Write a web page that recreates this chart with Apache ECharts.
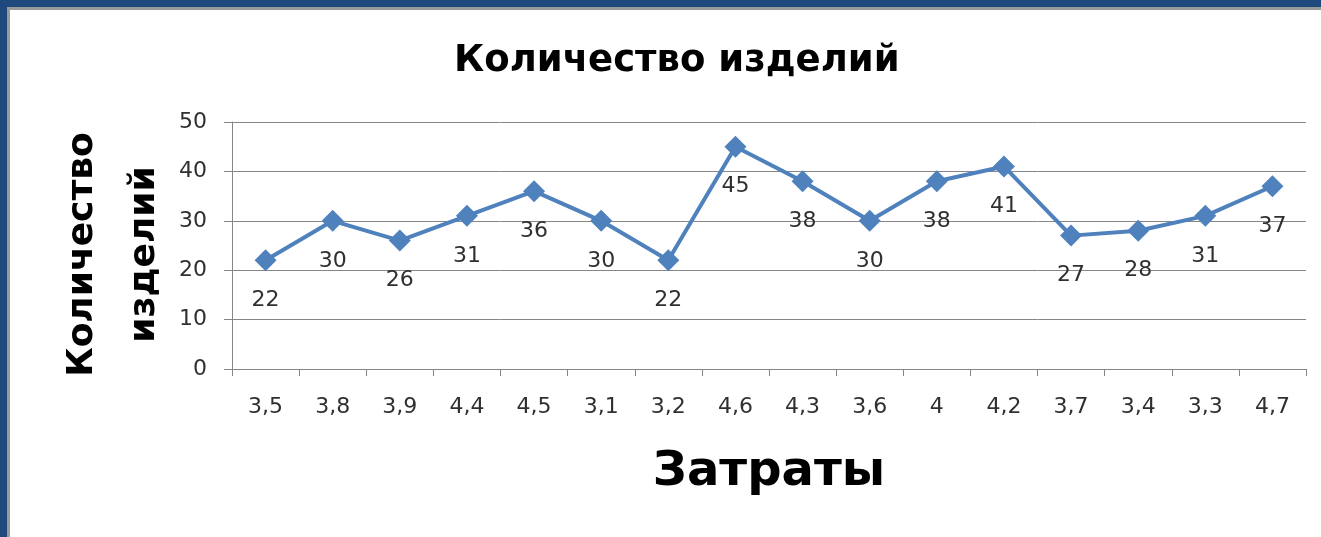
<!DOCTYPE html>
<html>
<head>
<meta charset="utf-8">
<script src="https://cdn.jsdelivr.net/npm/echarts@6/dist/echarts.min.js"></script>
<style>
  html, body { margin: 0; padding: 0; background: #ffffff; overflow: hidden; }
  #chart { position: absolute; left: 0; top: 0; width: 1321px; height: 537px; }
</style>
</head>
<body>
<div id="chart"></div>
<script>
const titleText = 'Количество изделий';
const xAxisTitle = 'Затраты';
const yAxisTitle = 'Количество\nизделий';
const categories = ['3,5', '3,8', '3,9', '4,4', '4,5', '3,1', '3,2', '4,6', '4,3', '3,6', '4', '4,2', '3,7', '3,4', '3,3', '4,7'];
const values = [22, 30, 26, 31, 36, 30, 22, 45, 38, 30, 38, 41, 27, 28, 31, 37];
const yTicks = { min: 0, max: 50, interval: 10 };

const chart = echarts.init(document.getElementById('chart'), null, { renderer: 'canvas' });
const font = 'DejaVu Sans';
chart.setOption({
  backgroundColor: '#ffffff',
  animation: false,
  graphic: [
    { type: 'rect', shape: { x: 0, y: 0, width: 1321, height: 10 }, style: { fill: '#9a9a9a' }, silent: true },
    { type: 'rect', shape: { x: 0, y: 0, width: 10, height: 537 }, style: { fill: '#9a9a9a' }, silent: true },
    { type: 'rect', shape: { x: 0, y: 0, width: 1321, height: 7 }, style: { fill: '#1F497D' }, silent: true },
    { type: 'rect', shape: { x: 0, y: 0, width: 7, height: 537 }, style: { fill: '#1F497D' }, silent: true }
  ],
  title: {
    text: titleText,
    left: 449,
    top: 38,
    textStyle: { fontFamily: font, fontWeight: 'bold', fontSize: 37, color: '#000000' }
  },
  grid: { left: 232, right: 15, top: 122, bottom: 168, containLabel: false },
  xAxis: {
    type: 'category',
    data: categories,
    boundaryGap: true,
    name: xAxisTitle,
    nameLocation: 'middle',
    nameGap: 80,
    nameMoveOverlap: false,
    nameTextStyle: { fontFamily: font, fontWeight: 'bold', fontSize: 48, color: '#000000' },
    axisLine: { show: true, lineStyle: { color: '#868686', width: 1 } },
    axisTick: { show: true, length: 7, alignWithLabel: false, lineStyle: { color: '#868686' } },
    axisLabel: { fontFamily: font, fontSize: 22, color: '#303030', margin: 27 },
    splitLine: { show: false }
  },
  yAxis: {
    type: 'value',
    min: yTicks.min,
    max: yTicks.max,
    interval: yTicks.interval,
    name: yAxisTitle,
    nameLocation: 'middle',
    nameGap: 56,
    nameMoveOverlap: false,
    nameRotate: 90,
    nameTextStyle: { fontFamily: font, fontWeight: 'bold', fontSize: 36, color: '#000000', lineHeight: 62, align: 'center', padding: [0, 18, 0, 0] },
    axisLine: { show: true, lineStyle: { color: '#868686', width: 1 } },
    axisTick: { show: true, length: 8, lineStyle: { color: '#868686' } },
    axisLabel: { fontFamily: font, fontSize: 22, color: '#303030', margin: 25 },
    splitLine: { show: true, lineStyle: { color: '#868686', width: 1 } }
  },
  series: [{
    type: 'line',
    data: values,
    symbol: 'diamond',
    symbolSize: 22,
    lineStyle: { color: '#4F81BD', width: 4 },
    itemStyle: { color: '#4F81BD' },
    label: { show: true, position: 'bottom', distance: 18, fontFamily: font, fontSize: 22, color: '#303030' }
  }]
});
</script>
</body>
</html>
